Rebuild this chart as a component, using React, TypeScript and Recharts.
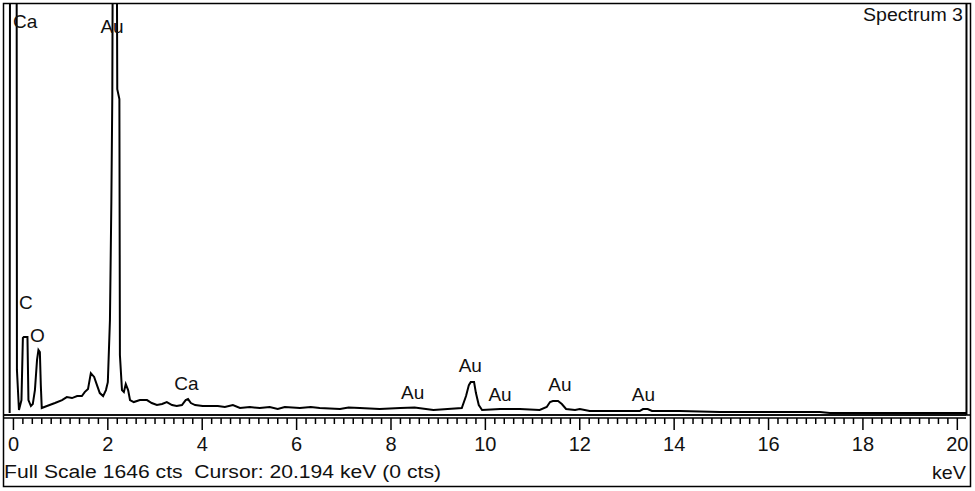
import React from "react";
import {
  ComposedChart,
  Line,
  XAxis,
  YAxis,
  ReferenceLine,
  ReferenceDot,
} from "recharts";

// Spectrum 3 – energy (keV) vs counts
const energyKeV = [
  -0.08, -0.07, 0.0, 0.065, 0.074, 0.117, 0.17, 0.2, 0.22, 0.297, 0.318,
  0.37, 0.41, 0.455, 0.5, 0.53, 0.56, 0.58, 0.6, 0.71, 0.88, 1.03, 1.13,
  1.24, 1.35, 1.45, 1.51, 1.58, 1.64, 1.71, 1.77, 1.83, 1.9, 1.96, 2.0,
  2.045, 2.075, 2.095, 2.105, 2.15, 2.19, 2.2, 2.245, 2.256, 2.3, 2.34,
  2.38, 2.43, 2.47, 2.55, 2.68, 2.83, 2.93, 3.04, 3.15, 3.25, 3.36, 3.46,
  3.57, 3.65, 3.7, 3.76, 3.85, 4.01, 4.16, 4.33, 4.48, 4.65, 4.8, 5.01,
  5.22, 5.43, 5.6, 5.75, 6.07, 6.3, 6.49, 6.92, 7.1, 7.34, 7.76, 8.2, 8.5,
  8.9, 9.2, 9.5, 9.59, 9.65, 9.69, 9.76, 9.8, 9.86, 9.93, 10.31, 10.73,
  11.15, 11.3, 11.37, 11.43, 11.54, 11.62, 11.71, 11.9, 12.0, 12.21, 12.85,
  13.27, 13.34, 13.44, 13.53, 14.12, 14.97, 15.39, 15.82, 16.45, 17.09,
  17.3, 20.2,
];
const countsCts = [
  0, 2600, 3200, 2600, 173, 12, 52, 301, 305, 305, 52, 28, 36, 92, 213, 253,
  245, 112, 20, 28, 40, 52, 64, 60, 68, 68, 84, 96, 160, 145, 112, 80, 68,
  92, 124, 373, 850, 1280, 1900, 2500, 1900, 1300, 1260, 233, 92, 84, 116,
  92, 52, 44, 52, 52, 40, 32, 36, 44, 32, 28, 32, 52, 56, 40, 32, 28, 28,
  28, 24, 32, 20, 24, 20, 24, 16, 24, 20, 24, 20, 16, 22, 20, 16, 20, 22,
  12, 16, 20, 68, 112, 124, 124, 80, 32, 12, 16, 16, 12, 24, 44, 48, 48, 36,
  16, 12, 16, 8, 8, 8, 16, 16, 8, 8, 4, 4, 4, 4, 4, 0, 0,
];

const majorTicks = [0, 2, 4, 6, 8, 10, 12, 14, 16, 18, 20];
const minorTicks = Array.from({ length: 101 }, (_, i) => i / 5);

// peak annotations: element, energy, counts (label centre)
const peakNames = ["Ca", "Au", "C", "O", "Ca", "Au", "Au", "Au", "Au", "Au"];
const peakKeV = [0.25, 2.09, 0.265, 0.51, 3.665, 8.46, 9.68, 10.31, 11.58, 13.35];
const peakCts = [1570, 1552, 442, 313, 118, 82, 189, 74, 114, 74];

const fullScale = 1646;
const cursorKeV = 20.194;

const data = energyKeV.map((e, i) => ({ e, c: countsCts[i] }));

const FONT = "'Liberation Sans', Arial, sans-serif";

const KevTick = (props: any) => {
  const { x, y, payload } = props;
  const v = payload.value;
  const major = majorTicks.some((m) => Math.abs(m - v) < 1e-6);
  return (
    <g>
      <line x1={x} x2={x} y1={y + 3} y2={major ? y + 15 : y + 9} stroke="#000" strokeWidth={1.5} />
      {major && (
        <text
          x={x}
          y={y + 36}
          textAnchor="middle"
          fontSize={20}
          fontFamily={FONT}
          fill="#111"
        >
          {v}
        </text>
      )}
    </g>
  );
};

const PeakLabel = (text: string) => (props: any) => {
  const vb = props.viewBox || {};
  const cx = vb.x + (vb.width || 0) / 2;
  const cy = vb.y + (vb.height || 0) / 2;
  return (
    <text
      x={cx}
      y={cy}
      textAnchor="middle"
      dominantBaseline="central"
      fontSize={19}
      fontFamily={FONT}
      fill="#111"
    >
      {text}
    </text>
  );
};

export default function App() {
  return (
    <div
      style={{
        position: "absolute",
        left: 0,
        top: 0,
        width: 975,
        height: 491,
        background: "#fff",
        fontFamily: FONT,
      }}
    >
      <ComposedChart
        width={975}
        height={491}
        data={data}
        margin={{ top: 3, right: 4, left: 4, bottom: 0 }}
      >
        <XAxis
          dataKey="e"
          type="number"
          domain={[-0.2, 20.29]}
          allowDataOverflow
          ticks={minorTicks}
          interval={0}
          tick={<KevTick />}
          tickLine={false}
          tickSize={0}
          tickMargin={0}
          height={76}
          axisLine={{ stroke: "#000", strokeWidth: 1.5 }}
        />
        <YAxis hide type="number" domain={[-8, fullScale]} allowDataOverflow />
        <ReferenceLine x={cursorKeV} stroke="#000" strokeWidth={2} ifOverflow="visible" />
        <Line
          type="linear"
          dataKey="c"
          stroke="#000"
          strokeWidth={2}
          dot={false}
          isAnimationActive={false}
        />
        {peakNames.map((n, i) => (
          <ReferenceDot
            key={i}
            x={peakKeV[i]}
            y={peakCts[i]}
            r={0}
            fill="none"
            stroke="none"
            ifOverflow="visible"
            label={PeakLabel(n)}
          />
        ))}
      </ComposedChart>
      <svg
        width={975}
        height={491}
        style={{ position: "absolute", left: 0, top: 0, pointerEvents: "none" }}
      >
        <rect x={3.5} y={3.5} width={967} height={483} fill="none" stroke="#000" strokeWidth={1.5} />
        <line x1={3.5} x2={966} y1={418} y2={418} stroke="#000" strokeWidth={1.5} />
        <line x1={3.5} x2={966} y1={415} y2={415} stroke="#000" strokeWidth={1.5} />
        <text
          x={4}
          y={478}
          fontSize={18}
          fontFamily={FONT}
          fill="#111"
          textLength={437}
          lengthAdjust="spacingAndGlyphs"
          style={{ whiteSpace: "pre" }}
        >
          {"Full Scale 1646 cts\u00a0 Cursor: 20.194 keV (0 cts)"}
        </text>
        <text
          x={966}
          y={479}
          textAnchor="end"
          fontSize={19}
          fontFamily={FONT}
          fill="#111"
          textLength={34}
          lengthAdjust="spacingAndGlyphs"
        >
          keV
        </text>
        <text
          x={963}
          y={21}
          fontSize={18}
          fontFamily={FONT}
          fill="#111"
          textAnchor="end"
          textLength={100}
          lengthAdjust="spacingAndGlyphs"
        >
          Spectrum 3
        </text>
      </svg>
    </div>
  );
}
